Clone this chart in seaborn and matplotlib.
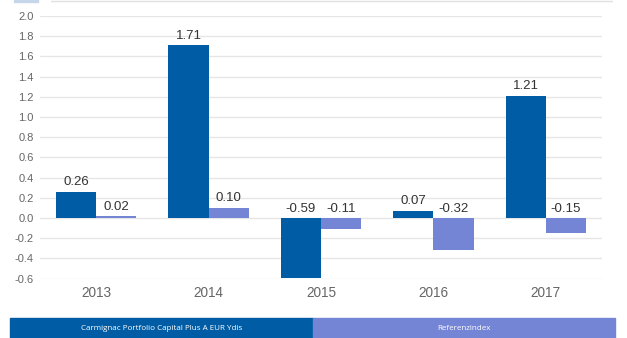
import matplotlib
matplotlib.use("Agg")
import matplotlib.pyplot as plt
from matplotlib.patches import Rectangle
import numpy as np
import pandas as pd
import seaborn as sns

# Annual performance, in percent
years = ["2013", "2014", "2015", "2016", "2017"]
fund_name = "Carmignac Portfolio Capital Plus A EUR Ydis"
index_name = "Referenzindex"
fund_values = [0.26, 1.71, -0.59, 0.07, 1.21]
index_values = [0.02, 0.10, -0.11, -0.32, -0.15]
y_ticks = [-0.6, -0.4, -0.2, 0.0, 0.2, 0.4, 0.6, 0.8, 1.0, 1.2, 1.4, 1.6, 1.8, 2.0]

dark_blue = "#005da5"
light_blue = "#7485d5"

sns.set_theme(style="white")
plt.rcParams["font.family"] = ["Liberation Sans", "DejaVu Sans"]
plt.rcParams["axes.unicode_minus"] = False

df = pd.DataFrame({
    "year": years * 2,
    "series": [fund_name] * len(years) + [index_name] * len(years),
    "value": fund_values + index_values,
})

W, H = 627, 338
fig = plt.figure(figsize=(W / 100, H / 100), dpi=100)
ax = fig.add_axes([40 / W, 1 - 278.6 / H, (602 - 40) / W, (278.6 - 16) / H])

sns.barplot(data=df, x="year", y="value", hue="series", order=years,
            hue_order=[fund_name, index_name],
            palette=[dark_blue, light_blue], width=0.714, gap=0,
            saturation=1, linewidth=0, legend=False, ax=ax, zorder=3)

ax.set_xlim(-0.5, len(years) - 0.5)
ax.set_ylim(-0.6, 2.0)
ax.set_yticks(y_ticks)
ax.set_yticklabels([f"{t:.1f}" for t in y_ticks])
ax.yaxis.grid(True, color="#e6e6e6", linewidth=1, zorder=0)
ax.xaxis.grid(False)
for s in ax.spines.values():
    s.set_visible(False)
ax.set_xlabel("")
ax.set_ylabel("")
ax.tick_params(axis="y", length=0, pad=4.5, labelsize=8, labelcolor="#666666")
ax.tick_params(axis="x", length=0, pad=5, labelsize=9.8, labelcolor="#666666")

# value labels above each bar (negative values sit above the zero line)
for container, values in zip(ax.containers, [fund_values, index_values]):
    for bar, v in zip(container, values):
        xc = bar.get_x() + bar.get_width() / 2
        ax.annotate(f"{v:.2f}", (xc, max(v, 0)), xytext=(0, 2.5),
                    textcoords="offset points", ha="center", va="bottom",
                    fontsize=9.5, color="#333333", zorder=4)

# legend strip along the bottom
legend_items = [(fund_name, dark_blue, 10, 313), (index_name, light_blue, 313, 615)]
for label, color, x0, x1 in legend_items:
    fig.patches.append(Rectangle((x0 / W, 0), (x1 - x0) / W, 20 / H,
                                 transform=fig.transFigure, color=color, zorder=1))
    fig.text((x0 + x1) / 2 / W, 10 / H, label, ha="center", va="center",
             color="white", fontsize=5.8, family=["Open Sans", "DejaVu Sans"])

# thin remnants of the toolbar above the chart
fig.patches.append(Rectangle((14 / W, 1 - 1.5 / H), 24 / W, 1.5 / H,
                             transform=fig.transFigure, color="#c5d5ea", zorder=1))
fig.lines.append(plt.Line2D([51 / W, 612 / W], [1 - 0.5 / H, 1 - 0.5 / H],
                            transform=fig.transFigure, color="#e0e0e0", linewidth=1))

fig.savefig("out.png", dpi=100, facecolor="white")
